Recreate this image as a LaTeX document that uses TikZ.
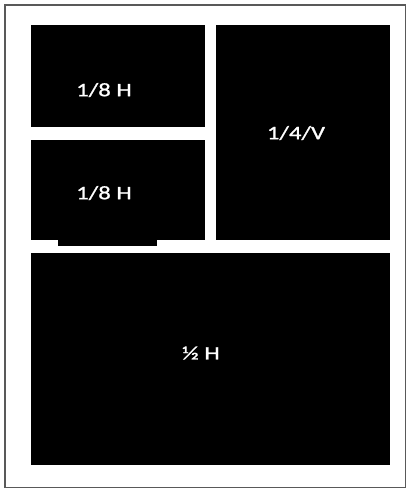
\documentclass[tikz,border=0pt]{standalone}
\usepackage{fontspec}
\usepackage{tikz}
\usetikzlibrary{positioning}
\newfontfamily\panelfont[FakeStretch=1.3, FakeBold=1.2]{Carlito}

\tikzset{
	panel/.style={fill=black},
	panellabel/.style={text=white, font=\panelfont\fontsize{19}{19}\selectfont, inner sep=0pt},
	frame/.style={draw=black!65, line width=1.5pt}
}

\begin{document}
\begin{tikzpicture}[x=1pt, y=-1pt]
		\useasboundingbox (0,0) rectangle (407,489);
		\draw[frame] (5,5) rectangle (405.5,487.5);

		\fill[panel] (31,25) rectangle (205,127);
		\fill[panel] (31,140) rectangle (205,240);
		\fill[panel] (58,238) rectangle (157,246);
		\fill[panel] (216,25) rectangle (390,240);
		\fill[panel] (31,253) rectangle (390,465);

		\node[panellabel] (eighthA) at (104,90) {1/8 H};
		\node[panellabel] (eighthB) at (104,193) {1/8 H};
		\node[panellabel] (quarter) at (296,133) {1/4/V};
		\node[panellabel] (half) at (201,353) {½ H};
	\end{tikzpicture}
\end{document}
